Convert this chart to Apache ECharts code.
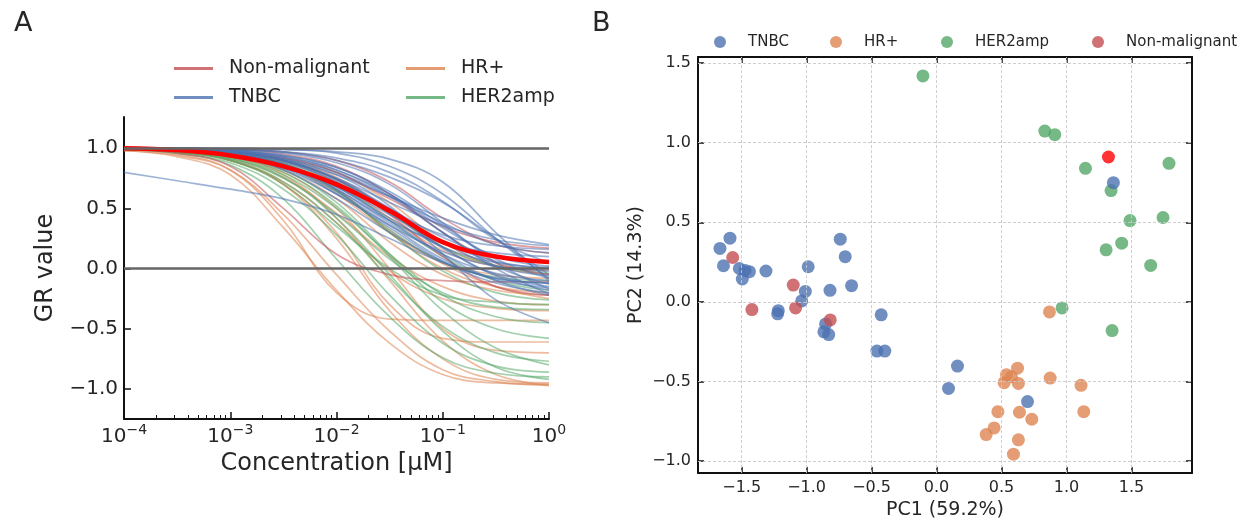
<!DOCTYPE html>
<html>
<head>
<meta charset="utf-8">
<script src="https://cdn.jsdelivr.net/npm/echarts@6/dist/echarts.min.js"></script>
<style>
  html, body { margin: 0; padding: 0; background: #fff; }
  #chart { width: 1254px; height: 525px; }
</style>
</head>
<body>
<div id="chart"></div>
<script>
// panel A: GR values read at these concentrations (log10 of uM)
const concExp = [-4, -3.5, -3, -2.5, -2, -1.5, -1, -0.5, 0];

const tnbcCurves = [
  [1.00, 1.00, 0.99, 0.97, 0.90, 0.76, 0.55, 0.25, -0.05],
  [1.00, 0.99, 0.97, 0.91, 0.78, 0.60, 0.42, 0.28, 0.20],
  [1.00, 0.99, 0.97, 0.90, 0.75, 0.55, 0.36, 0.24, 0.19],
  [0.80, 0.73, 0.66, 0.58, 0.45, 0.25, 0.05, -0.08, -0.12],
  [1.00, 0.99, 0.97, 0.89, 0.72, 0.48, 0.28, 0.19, 0.16],
  [1.00, 0.98, 0.95, 0.86, 0.66, 0.40, 0.21, 0.13, 0.10],
  [1.00, 0.99, 0.97, 0.90, 0.74, 0.50, 0.26, 0.10, 0.05],
  [1.00, 0.99, 0.96, 0.87, 0.68, 0.42, 0.18, 0.05, 0.01],
  [1.00, 0.98, 0.94, 0.83, 0.62, 0.36, 0.14, 0.02, -0.02],
  [1.00, 0.99, 0.97, 0.90, 0.75, 0.50, 0.22, 0.02, -0.06],
  [1.00, 0.99, 0.96, 0.86, 0.66, 0.38, 0.12, -0.04, -0.10],
  [1.00, 0.98, 0.94, 0.82, 0.58, 0.30, 0.06, -0.08, -0.12],
  [1.00, 1.00, 0.98, 0.93, 0.82, 0.60, 0.30, 0.02, -0.13],
  [1.00, 0.99, 0.97, 0.89, 0.72, 0.46, 0.17, -0.05, -0.15],
  [1.00, 0.98, 0.95, 0.85, 0.64, 0.36, 0.08, -0.09, -0.16],
  [1.00, 1.00, 0.99, 0.96, 0.88, 0.70, 0.38, 0.05, -0.17],
  [1.00, 0.99, 0.97, 0.90, 0.74, 0.48, 0.18, -0.06, -0.18],
  [1.00, 0.98, 0.94, 0.84, 0.62, 0.34, 0.06, -0.12, -0.20],
  [1.00, 1.00, 0.98, 0.94, 0.84, 0.62, 0.30, 0.00, -0.21],
  [1.00, 0.99, 0.96, 0.87, 0.68, 0.40, 0.12, -0.10, -0.22],
  [1.00, 1.00, 1.00, 0.99, 0.97, 0.91, 0.72, 0.30, -0.10],
  [1.00, 1.00, 0.99, 0.97, 0.92, 0.80, 0.56, 0.24, 0.05],
  [1.00, 0.99, 0.98, 0.94, 0.84, 0.64, 0.36, 0.08, -0.08],
  [1.00, 0.98, 0.95, 0.86, 0.68, 0.45, 0.22, 0.06, 0.00],
  [1.00, 0.99, 0.98, 0.92, 0.80, 0.60, 0.38, 0.20, 0.13],
  [1.00, 0.99, 0.97, 0.91, 0.78, 0.52, 0.12, -0.26, -0.45],
  [1.00, 1.00, 1.00, 0.99, 0.96, 0.85, 0.62, 0.25, -0.08],
  [1.00, 0.99, 0.98, 0.93, 0.82, 0.62, 0.34, 0.10, 0.02]
];

const nonMalignantCurves = [
  [1.00, 0.99, 0.97, 0.92, 0.80, 0.58, 0.35, 0.22, 0.17],
  [0.99, 0.96, 0.85, 0.50, 0.12, -0.05, -0.10, -0.11, -0.11],
  [1.00, 1.00, 0.99, 0.95, 0.85, 0.62, 0.30, 0.05, -0.05],
  [1.00, 0.99, 0.97, 0.90, 0.74, 0.45, 0.10, -0.15, -0.22],
  [1.00, 1.00, 0.99, 0.97, 0.90, 0.72, 0.42, 0.20, 0.13]
];

const hrCurves = [
  [0.98, 0.93, 0.78, 0.34, -0.18, -0.62, -0.88, -0.95, -0.96],
  [0.98, 0.94, 0.82, 0.45, -0.05, -0.52, -0.84, -0.94, -0.97],
  [0.99, 0.95, 0.82, 0.40, -0.20, -0.42, -0.43, -0.43, -0.43],
  [0.99, 0.97, 0.90, 0.70, 0.30, -0.30, -0.58, -0.61, -0.61],
  [1.00, 0.98, 0.93, 0.80, 0.50, 0.00, -0.50, -0.68, -0.70],
  [0.99, 0.97, 0.90, 0.70, 0.25, -0.35, -0.75, -0.92, -0.95],
  [1.00, 0.98, 0.93, 0.78, 0.42, -0.10, -0.60, -0.88, -0.97],
  [1.00, 0.99, 0.96, 0.88, 0.66, 0.30, 0.00, -0.15, -0.20],
  [1.00, 0.99, 0.96, 0.86, 0.62, 0.30, 0.05, -0.05, -0.08],
  [1.00, 0.99, 0.97, 0.90, 0.72, 0.42, 0.15, 0.02, -0.02],
  [1.00, 0.99, 0.96, 0.87, 0.65, 0.32, 0.04, -0.15, -0.25],
  [1.00, 0.99, 0.97, 0.91, 0.76, 0.48, 0.18, 0.03, 0.00],
  [0.99, 0.97, 0.91, 0.76, 0.46, 0.10, -0.15, -0.27, -0.30],
  [1.00, 0.98, 0.94, 0.82, 0.58, 0.22, -0.05, -0.18, -0.22],
  [1.00, 0.99, 0.97, 0.92, 0.80, 0.55, 0.22, 0.02, -0.05],
  [0.99, 0.97, 0.90, 0.72, 0.38, -0.02, -0.25, -0.33, -0.35]
];

const her2Curves = [
  [0.99, 0.97, 0.90, 0.70, 0.35, 0.00, -0.22, -0.28, -0.30],
  [0.99, 0.97, 0.91, 0.75, 0.45, 0.08, -0.20, -0.32, -0.34],
  [1.00, 0.98, 0.94, 0.82, 0.55, 0.12, -0.28, -0.50, -0.58],
  [0.99, 0.97, 0.90, 0.72, 0.38, -0.08, -0.48, -0.70, -0.77],
  [1.00, 0.98, 0.93, 0.80, 0.52, 0.10, -0.35, -0.66, -0.80],
  [0.99, 0.96, 0.88, 0.66, 0.28, -0.22, -0.62, -0.81, -0.86],
  [1.00, 0.98, 0.92, 0.76, 0.42, -0.05, -0.52, -0.82, -0.92],
  [0.99, 0.96, 0.86, 0.58, 0.08, -0.40, -0.74, -0.87, -0.90],
  [1.00, 0.99, 0.96, 0.87, 0.65, 0.30, -0.02, -0.20, -0.26],
  [1.00, 0.99, 0.96, 0.88, 0.70, 0.40, 0.10, -0.10, -0.18],
  [1.00, 0.99, 0.97, 0.90, 0.74, 0.46, 0.18, 0.02, -0.04],
  [1.00, 0.98, 0.95, 0.85, 0.64, 0.32, 0.05, -0.07, -0.10],
  [0.99, 0.97, 0.92, 0.78, 0.50, 0.12, -0.22, -0.40, -0.45]
];

// the highlighted (thick red) cell line
const highlightCurve = [1.00, 0.985, 0.94, 0.85, 0.70, 0.48, 0.22, 0.10, 0.055];

// panel B: [PC1, PC2]
const tnbcPoints = [
  [-1.667, 0.336], [-1.59, 0.40], [-1.64, 0.227], [-1.518, 0.21], [-1.474, 0.198],
  [-1.44, 0.19], [-1.495, 0.144], [-1.313, 0.194], [-0.988, 0.221], [-0.741, 0.394],
  [-0.703, 0.284], [-0.654, 0.102], [-0.82, 0.073], [-1.01, 0.066], [-1.038, 0.006],
  [-1.218, -0.055], [-1.223, -0.075], [-0.854, -0.138], [-0.867, -0.188], [-0.83, -0.205],
  [-0.426, -0.081], [-0.459, -0.309], [-0.398, -0.309], [0.161, -0.403], [0.092, -0.543],
  [0.70, -0.626], [1.361, 0.749]
];
const hrPoints = [
  [0.869, -0.063], [0.623, -0.416], [0.538, -0.457], [0.577, -0.47], [0.52, -0.507],
  [0.63, -0.512], [0.874, -0.478], [1.112, -0.524], [0.472, -0.689], [0.638, -0.693],
  [1.133, -0.689], [0.733, -0.737], [0.443, -0.791], [0.382, -0.833], [0.63, -0.866],
  [0.592, -0.956]
];
const her2Points = [
  [-0.105, 1.419], [0.833, 1.073], [0.91, 1.05], [1.146, 0.839], [1.789, 0.87],
  [1.343, 0.699], [1.489, 0.511], [1.743, 0.53], [1.425, 0.369], [1.305, 0.327],
  [1.648, 0.229], [0.966, -0.038], [1.351, -0.18]
];
const nonMalignantPoints = [
  [-1.569, 0.279], [-1.103, 0.106], [-1.421, -0.048], [-1.085, -0.038], [-0.818, -0.113]
];
const highlightPoint = [[1.323, 0.91]];

const yTicksA = [-1, -0.5, 0, 0.5, 1];
const xTicksB = [-1.5, -1, -0.5, 0, 0.5, 1, 1.5];
const yTicksB = [-1, -0.5, 0, 0.5, 1, 1.5];

const colors = {
  'TNBC': '#4c72b0',
  'HR+': '#dd8452',
  'HER2amp': '#55a868',
  'Non-malignant': '#c44e52'
};
const ink = '#262626';
const font = 'DejaVu Sans';

// minor ticks of the log axis, 2..9 x 10^n
const minorTicks = [];
for (let n = -4; n < 0; n++) {
  for (let k = 2; k <= 9; k++) minorTicks.push(n + Math.log10(k));
}

const minus = v => (v < 0 ? '\u2212' : '') + Math.abs(v).toFixed(1);

function curveSeries(name, curves) {
  return curves.map(c => ({
    type: 'line',
    name: name,
    xAxisIndex: 0,
    yAxisIndex: 0,
    data: c.map((v, i) => [concExp[i], v]),
    symbol: 'none',
    smooth: 0.4,
    silent: true,
    lineStyle: { color: colors[name], width: 1.7, opacity: 0.55 },
    itemStyle: { color: colors[name], opacity: 0.8 }
  }));
}

function pointSeries(name, points) {
  return {
    type: 'scatter',
    name: name,
    xAxisIndex: 2,
    yAxisIndex: 1,
    data: points,
    symbolSize: 13,
    silent: true,
    z: 3,
    itemStyle: { color: colors[name], opacity: 0.8 }
  };
}

const spine = { show: true, onZero: false, lineStyle: { color: '#111', width: 2 } };
const tickIn = len => ({ show: true, inside: true, length: len, lineStyle: { color: '#111', width: 1.5 } });

const chart = echarts.init(document.getElementById('chart'), null, { renderer: 'canvas' });

const option = {
  animation: false,
  backgroundColor: '#fff',
  textStyle: { fontFamily: font, color: ink },
  title: [
    { text: 'A', left: 9, top: 5, textStyle: { fontFamily: font, fontSize: 27, fontWeight: 'normal', color: ink } },
    { text: 'B', left: 587, top: 5, textStyle: { fontFamily: font, fontSize: 27, fontWeight: 'normal', color: ink } }
  ],
  legend: [
    { name: 'Non-malignant', left: 174, top: 59 },
    { name: 'TNBC', left: 174, top: 88 },
    { name: 'HR+', left: 406, top: 59 },
    { name: 'HER2amp', left: 406, top: 88 }
  ].map(l => ({
    data: [l.name], left: l.left, top: l.top, padding: 0, icon: 'rect',
    itemWidth: 39, itemHeight: 3, selectedMode: false,
    textStyle: { fontFamily: font, fontSize: 19, color: ink, padding: [0, 0, 0, 11] }
  })).concat([
    { name: 'TNBC', left: 714 },
    { name: 'HR+', left: 830 },
    { name: 'HER2amp', left: 941 },
    { name: 'Non-malignant', left: 1092 }
  ].map(l => ({
    data: [l.name], left: l.left, top: 34.5, padding: 0, icon: 'circle',
    itemWidth: 12, itemHeight: 12, selectedMode: false,
    textStyle: { fontFamily: font, fontSize: 15, color: ink, padding: [0, 0, 0, 17] }
  }))),
  grid: [
    { left: 124, top: 117, width: 425, height: 302 },
    { left: 698, top: 57, width: 494, height: 417 }
  ],
  xAxis: [
    {
      gridIndex: 0, type: 'value', min: -4, max: 0, interval: 1,
      axisLine: spine, axisTick: tickIn(7), splitLine: { show: false },
      name: 'Concentration [\u03bcM]', nameLocation: 'middle', nameGap: 32,
      nameTextStyle: { fontFamily: font, fontSize: 24, color: ink },
      axisLabel: {
        margin: 4,
        formatter: v => '{b|10}{s|' + (v < 0 ? '\u2212' + (-v) : v) + '}',
        rich: {
          b: { fontFamily: font, fontSize: 20, color: ink, verticalAlign: 'bottom', lineHeight: 24 },
          s: { fontFamily: font, fontSize: 14, color: ink, verticalAlign: 'top', lineHeight: 14 }
        }
      }
    },
    {
      gridIndex: 0, type: 'value', min: -4, max: 0, position: 'bottom',
      axisLine: { show: false, onZero: false }, axisLabel: { show: false }, splitLine: { show: false },
      axisTick: Object.assign(tickIn(4), { customValues: minorTicks, lineStyle: { color: '#111', width: 1 } })
    },
    {
      gridIndex: 1, type: 'value', min: -1.836, max: 1.966, position: 'bottom',
      axisLine: spine, splitLine: { show: false },
      axisTick: Object.assign(tickIn(6), { customValues: xTicksB }),
      axisLabel: { customValues: xTicksB, formatter: minus, margin: 7, fontFamily: font, fontSize: 16, color: ink },
      name: 'PC1 (59.2%)', nameLocation: 'middle', nameGap: 27,
      nameTextStyle: { fontFamily: font, fontSize: 19, color: ink }
    },
    {
      gridIndex: 1, type: 'value', min: -1.836, max: 1.966, position: 'top',
      axisLine: spine, splitLine: { show: false }, axisLabel: { show: false },
      axisTick: Object.assign(tickIn(6), { customValues: xTicksB })
    }
  ],
  yAxis: [
    {
      gridIndex: 0, type: 'value', min: -1.25, max: 1.26,
      axisLine: spine, splitLine: { show: false },
      axisTick: Object.assign(tickIn(7), { customValues: yTicksA }),
      axisLabel: { customValues: yTicksA, formatter: minus, margin: 6, fontFamily: font, fontSize: 20, color: ink },
      name: 'GR value', nameLocation: 'middle', nameGap: 66,
      nameTextStyle: { fontFamily: font, fontSize: 24, color: ink }
    },
    {
      gridIndex: 1, type: 'value', min: -1.075, max: 1.538, position: 'left',
      axisLine: spine, splitLine: { show: false },
      axisTick: Object.assign(tickIn(6), { customValues: yTicksB }),
      axisLabel: { customValues: yTicksB, formatter: minus, margin: 7, fontFamily: font, fontSize: 16, color: ink },
      name: 'PC2 (14.3%)', nameLocation: 'middle', nameGap: 52,
      nameTextStyle: { fontFamily: font, fontSize: 19, color: ink }
    },
    {
      gridIndex: 1, type: 'value', min: -1.075, max: 1.538, position: 'right',
      axisLine: spine, splitLine: { show: false }, axisLabel: { show: false },
      axisTick: Object.assign(tickIn(6), { customValues: yTicksB })
    }
  ],
  series: [
    // reference lines at GR = 0 and 1
    {
      type: 'line', xAxisIndex: 0, yAxisIndex: 0, data: [], silent: true, z: 1,
      markLine: {
        silent: true, symbol: ['none', 'none'], label: { show: false },
        lineStyle: { color: '#666', width: 2.5, type: 'solid' },
        data: [{ yAxis: 0 }, { yAxis: 1 }]
      }
    },
    // dashed grid of panel B
    {
      type: 'scatter', xAxisIndex: 2, yAxisIndex: 1, data: [], silent: true, z: 1,
      markLine: {
        silent: true, symbol: ['none', 'none'], label: { show: false },
        lineStyle: { color: '#c8c8c8', width: 0.9, type: [3, 2] },
        data: xTicksB.map(v => ({ xAxis: v })).concat(yTicksB.map(v => ({ yAxis: v })))
      }
    }
  ]
    .concat(curveSeries('HR+', hrCurves))
    .concat(curveSeries('HER2amp', her2Curves))
    .concat(curveSeries('Non-malignant', nonMalignantCurves))
    .concat(curveSeries('TNBC', tnbcCurves))
    .concat([{
      type: 'line', name: 'highlight', xAxisIndex: 0, yAxisIndex: 0,
      data: highlightCurve.map((v, i) => [concExp[i], v]),
      symbol: 'none', smooth: 0.4, silent: true, z: 4,
      lineStyle: { color: '#ff0000', width: 4.5 }
    }])
    .concat([
      pointSeries('HER2amp', her2Points),
      pointSeries('HR+', hrPoints),
      pointSeries('TNBC', tnbcPoints),
      pointSeries('Non-malignant', nonMalignantPoints),
      {
        type: 'scatter', name: 'highlight', xAxisIndex: 2, yAxisIndex: 1,
        data: highlightPoint, symbolSize: 13, silent: true, z: 4,
        itemStyle: { color: '#ff0000' }
      }
    ])
};

chart.setOption(option);
</script>
</body>
</html>
